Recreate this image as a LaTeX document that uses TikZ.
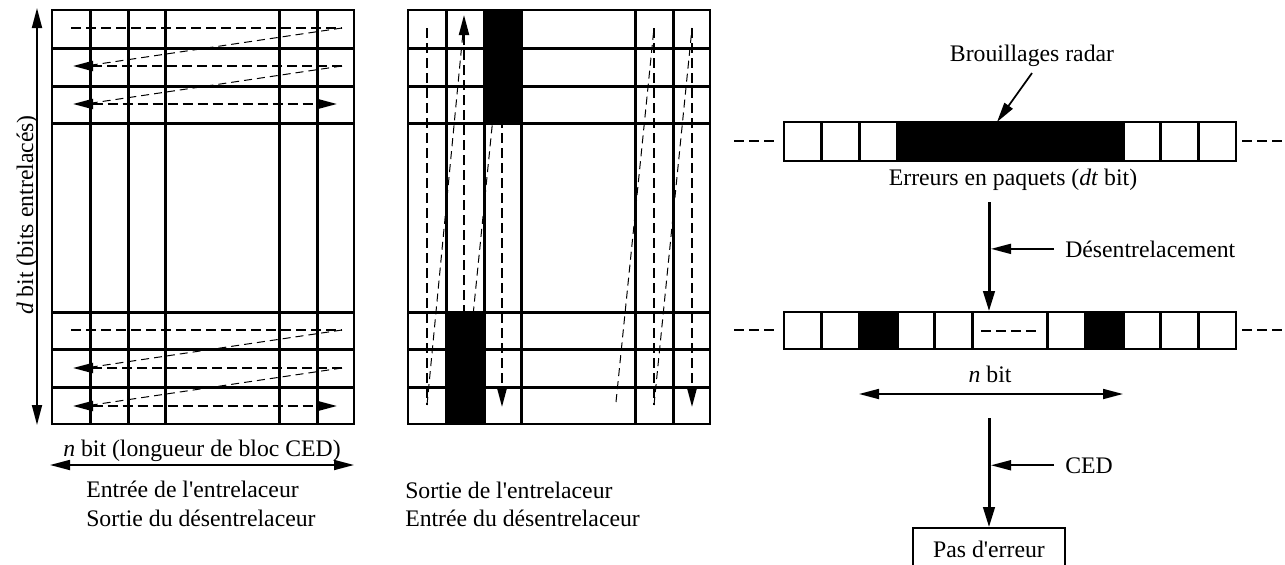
\documentclass[tikz,border=0pt]{standalone}
\usepackage{fontspec}
\newfontfamily\timesfont{Liberation Serif}
\usetikzlibrary{arrows.meta}

\begin{document}
\begin{tikzpicture}
[x=0.75pt,y=-0.75pt,%
  every node/.style={inner sep=0pt,font=\timesfont\fontsize{17.8}{21}\selectfont},%
  frame/.style={line width=1.2pt},%
  bar/.style={line width=2.25pt},%
  lean/.style={line width=1.3pt},%
  trace/.style={line width=1.5pt,dash pattern=on 7.5pt off 3.75pt},%
  jump/.style={line width=0.75pt,dash pattern=on 6pt off 3.75pt},%
  etc/.style={line width=1.3pt,dash pattern=on 7.5pt off 3.75pt},%
  oneway/.style={-{Triangle[length=15pt,width=7.5pt]}},%
  twoway/.style={{Triangle[length=15pt,width=7.5pt]}-{Triangle[length=15pt,width=7.5pt]}},%
  flow/.style={line width=2.25pt,-{Triangle[length=15pt,width=8.5pt]}},%
  strip/.style={draw,line width=1.2pt,minimum width=339pt}]

\useasboundingbox (0,0) rectangle (1285,564);

\foreach \y in {28,330}{
  \draw[trace] (71,\y) -- (342,\y);
  \draw[trace,oneway] (342,\y+38) -- (73,\y+38);
  \draw[trace,twoway] (73,\y+76) -- (337,\y+76);
  \draw[jump] (342,\y) -- (92,\y+37);
  \draw[jump] (342,\y+38) -- (92,\y+75);
}

\foreach \x in {427,654} \draw[trace] (\x,28) -- (\x,405);
\foreach \x in {502,692} \draw[trace,oneway] (\x,28) -- (\x,407);
\draw[trace,oneway] (464,405) -- (464,15);
\draw[jump] (427,405) -- (464,22);
\draw[jump] (464,405) -- (502,28);
\draw[jump] (616,402) -- (654,28);
\draw[jump] (654,405) -- (692,28);
\fill (483,10) rectangle (521,123);
\fill (445,312) rectangle (483,425);

\foreach \o in {0,356}{
  \foreach \x in {90,128,165,279,317} \draw[bar] (\x+\o,10) -- (\x+\o,424);
  \foreach \y in {48,86,123,312,349,387} \draw[bar] (52+\o,\y) -- (354+\o,\y);
  \draw[frame] (52+\o,10) rectangle (354+\o,424);
}

\coordinate (dtop) at (37,8);
\coordinate (dbot) at (37,425);
\draw[lean,twoway] (dtop) -- (dbot);
\node[rotate=90,anchor=base] (dlbl) at (33,215) {\textit{d} bit (bits entrelacés)};
\node[anchor=base] (nlbl) at (202,456) {\textit{n} bit (longueur de bloc CED)};
\coordinate (nA) at (50,465);
\coordinate (nB) at (354,465);
\draw[lean,twoway] (nA) -- (nB);
\node[anchor=base west] (inA) at (86,497) {Entrée de l'entrelaceur};
\node[anchor=base west] (outA) at (86,526) {Sortie du désentrelaceur};
\node[anchor=base west] (outB) at (405,498) {Sortie de l'entrelaceur};
\node[anchor=base west] (inB) at (405,526) {Entrée du désentrelaceur};

\node[strip,minimum height=29.25pt] (burst) at (1010,141.5) {};
\fill (897,122) rectangle (1123,161);
\foreach \i in {1,2,3,9,10,11} \draw[bar] (784+37.67*\i,122) -- (784+37.67*\i,161);
\node[strip,minimum height=27.75pt] (spread) at (1010,330.5) {};
\fill (859.3,312) rectangle (897,349) (1085.3,312) rectangle (1123,349);
\foreach \i in {1,2,3,4,5,7,8,9,10,11} \draw[bar] (784+37.67*\i,312) -- (784+37.67*\i,349);
\draw[etc] (981,331) -- (1038,331);
\foreach \y in {141,330}{
  \draw[etc] (734,\y) -- (776,\y);
  \draw[etc] (1242,\y) -- (1285,\y);
}

\node[anchor=base] (radar) at (1032,61) {Brouillages radar};
\coordinate (hit) at (997,122);
\draw[lean,oneway] ([yshift=-5pt]radar.south) -- (hit);
\node[anchor=base] (burstlbl) at (1013,185) {Erreurs en paquets (\textit{dt} bit)};
\coordinate (f1) at (989,202);
\draw[flow] (f1) -- (f1 |- spread.north);
\node[anchor=base west] (desent) at (1065,257) {Désentrelacement};
\draw[lean,oneway,shorten >=1.5pt] ([xshift=-8.25pt]desent.west) -- (desent.west -| f1);
\node[anchor=base] (nbit) at (990,382) {\textit{n} bit};
\coordinate (nl) at (859,394);
\coordinate (nr) at (1123,394);
\draw[lean,twoway] (nl) -- (nr);
\coordinate (f2) at (989,418);
\node[draw,frame,minimum width=114pt,minimum height=31.5pt] (ok) at (989,549) {Pas d'erreur};
\draw[flow] (f2) -- (ok.north);
\node[anchor=base west] (ced) at (1065,473) {CED};
\draw[lean,oneway,shorten >=1.5pt] ([xshift=-8.25pt]ced.west) -- (ced.west -| f2);
\end{tikzpicture}
\end{document}
